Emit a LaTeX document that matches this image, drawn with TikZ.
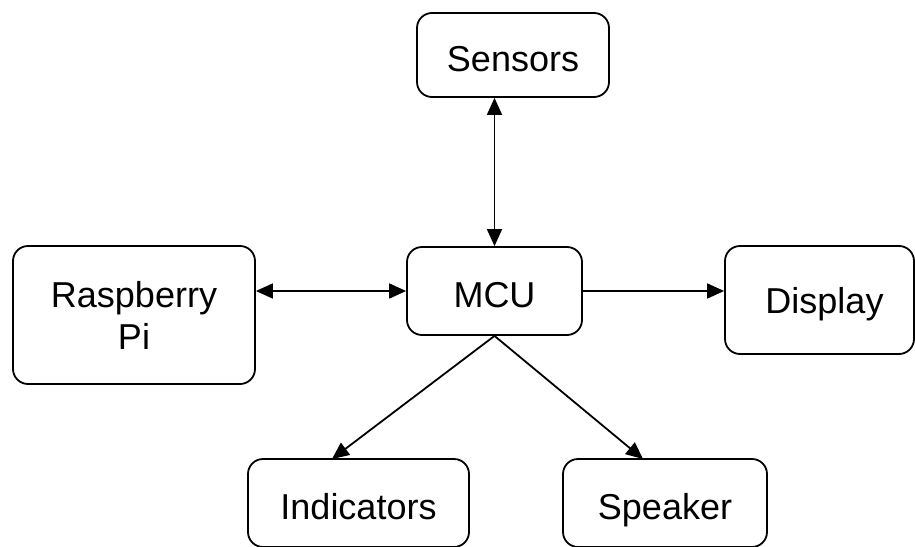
\documentclass[tikz,border=0pt]{standalone}
\usepackage{fontspec}
\setmainfont{Liberation Sans}
\usetikzlibrary{arrows.meta}
\begin{document}
\begin{tikzpicture}[x=1pt,y=-1pt,
  blockbox/.style={draw=black, line width=1.8pt, rounded corners=15pt, fill=white,
    inner sep=0pt, align=center, font=\fontsize{36}{42}\selectfont},
  onerow/.style={text height=32pt, text depth=0pt},
  tip/.tip={Triangle[length=17pt,width=15pt]},
  conn/.style={line width=1.8pt, -tip},
  biconn/.style={line width=1.8pt, tip-tip}]
\useasboundingbox (0,0) rectangle (915,546);
\node[blockbox, onerow, minimum width=192pt, minimum height=84pt] (sensors) at (513,55) {Sensors};
\node[blockbox, minimum width=242pt, minimum height=138pt] (rpi) at (134,315) {Raspberry\\Pi};
\node[blockbox, onerow, minimum width=175pt, minimum height=88pt] (mcu) at (494.5,291) {MCU};
\node[blockbox, text height=27pt, text depth=0pt, minimum width=189pt, minimum height=108pt] (display) at (819.5,300) {\hspace{10pt}Display};
\node[blockbox, onerow, minimum width=221pt, minimum height=88pt] (indicators) at (358.5,503) {Indicators};
\node[blockbox, onerow, minimum width=204pt, minimum height=88pt] (speaker) at (665,503) {Speaker};
\coordinate (indT) at (332,459);
\coordinate (spkT) at (643,459);
\draw[biconn] (mcu.north |- sensors.south) -- (mcu.north);
\draw[biconn] (rpi.east |- mcu.west) -- (mcu.west);
\draw[conn] (mcu.east) -- (display.west |- mcu.east);
\draw[conn] (mcu.south) -- (indT);
\draw[conn] (mcu.south) -- (spkT);
\end{tikzpicture}
\end{document}
